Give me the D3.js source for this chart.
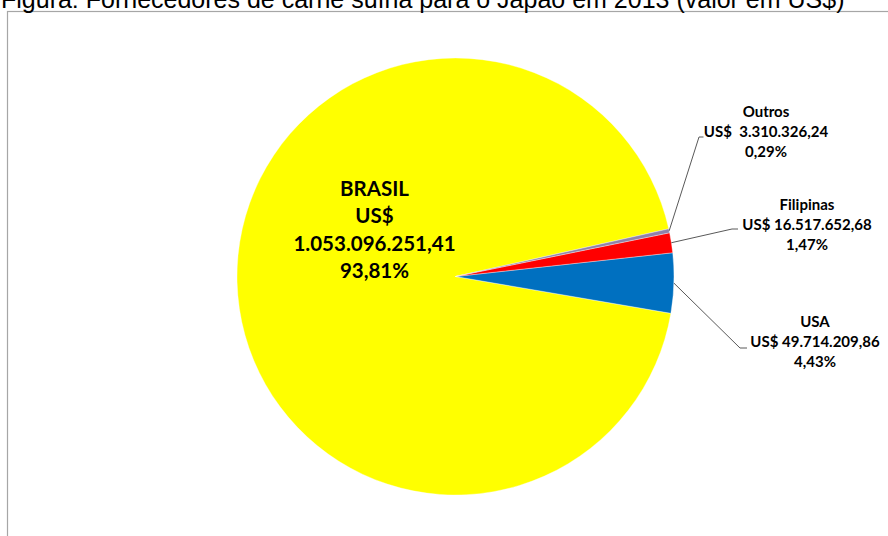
<!DOCTYPE html>
<html lang="pt-BR">
<head>
<meta charset="utf-8">
<script src="https://cdn.jsdelivr.net/npm/d3@7"></script>
<style>
  html, body { margin: 0; padding: 0; background: #fff; }
  svg { display: block; }
</style>
</head>
<body>
<svg id="chart" width="888" height="536"></svg>
<script>
// Fornecedores de carne suína para o Japão em 2013
const countries = ["BRASIL", "USA", "Filipinas", "Outros"];
const values = [1053096251.41, 49714209.86, 16517652.68, 3310326.24];
const valueLabels = ["1.053.096.251,41", "49.714.209,86", "16.517.652,68", "3.310.326,24"];
const percentLabels = ["93,81%", "4,43%", "1,47%", "0,29%"];
const colors = ["#FFFF00", "#0070C0", "#FF0000", "#8F82AA"];

const title = "Figura: Fornecedores de carne suína para o Japão em 2013 (valor em US$)";

const W = 888, H = 536;
const cx = 455.5, cy = 276.5, R = 218.5;
const deg = Math.PI / 180;

const svg = d3.select("#chart");

// frame of the chart area (right and bottom edges fall outside the page)
svg.append("rect")
  .attr("x", 7.5).attr("y", 11.5)
  .attr("width", W + 20).attr("height", H + 20)
  .attr("fill", "#fff")
  .attr("stroke", "#a6a6a6").attr("stroke-width", 1.2);

// caption runs along the top edge of the page
svg.append("text")
  .attr("x", 1).attr("y", 7.5)
  .attr("font-family", "'Liberation Sans', Arial, sans-serif")
  .attr("font-size", 25)
  .attr("fill", "#000")
  .text(title);

// slices run counter-clockwise from the lower edge of the USA wedge
const pie = d3.pie()
  .sort(null)
  .value(d => d)
  .startAngle(437.4 * deg)
  .endAngle(77.4 * deg);

const arcs = pie(values);
const arc = d3.arc().innerRadius(0).outerRadius(R);

const g = svg.append("g").attr("transform", `translate(${cx},${cy})`);

g.selectAll("path.slice")
  .data(arcs)
  .join("path")
  .attr("class", "slice")
  .attr("d", arc)
  .attr("fill", (d, i) => colors[i])
  .attr("stroke", "#fff")
  .attr("stroke-width", 0.6)
  .attr("stroke-opacity", 0.6);

const labelFont = "Lato, 'Open Sans', sans-serif";

// Brasil label sits inside its own slice
const brasil = svg.append("text")
  .attr("font-family", labelFont)
  .attr("font-weight", 700)
  .attr("font-size", 20.5)
  .attr("text-anchor", "middle")
  .attr("fill", "#000");
[countries[0], "US$", valueLabels[0], percentLabels[0]].forEach((t, k) => {
  brasil.append("tspan")
    .attr("x", cx - 81)
    .attr("y", 196 + k * 27.4)
    .text(t);
});

// outside labels with leader lines: label centre, first baseline, elbow of the leader
const outside = [
  { i: 1, x: 815, y: 327, elbow: [740, 348], end: 747, gap: "US$ " },
  { i: 2, x: 807, y: 210, elbow: [732, 229], end: 738, gap: "US$ " },
  { i: 3, x: 766, y: 116.7, elbow: [699, 137], end: 703.5, gap: "US$\u00a0\u00a0" }
];

outside.forEach(o => {
  const a = arcs[o.i];
  const mid = (a.startAngle + a.endAngle) / 2;
  const p0 = [cx + R * Math.sin(mid), cy - R * Math.cos(mid)];
  svg.append("path")
    .attr("d", d3.line()([p0, o.elbow, [o.end, o.elbow[1]]]))
    .attr("fill", "none")
    .attr("stroke", "#595959")
    .attr("stroke-width", 1);

  const t = svg.append("text")
    .attr("font-family", labelFont)
    .attr("font-weight", 700)
    .attr("font-size", 15)
    .attr("text-anchor", "middle")
    .attr("fill", "#000");
  [countries[o.i], o.gap + valueLabels[o.i], percentLabels[o.i]].forEach((s, k) => {
    t.append("tspan")
      .attr("x", o.x)
      .attr("y", o.y + k * 20)
      .text(s);
  });
});
</script>
</body>
</html>
